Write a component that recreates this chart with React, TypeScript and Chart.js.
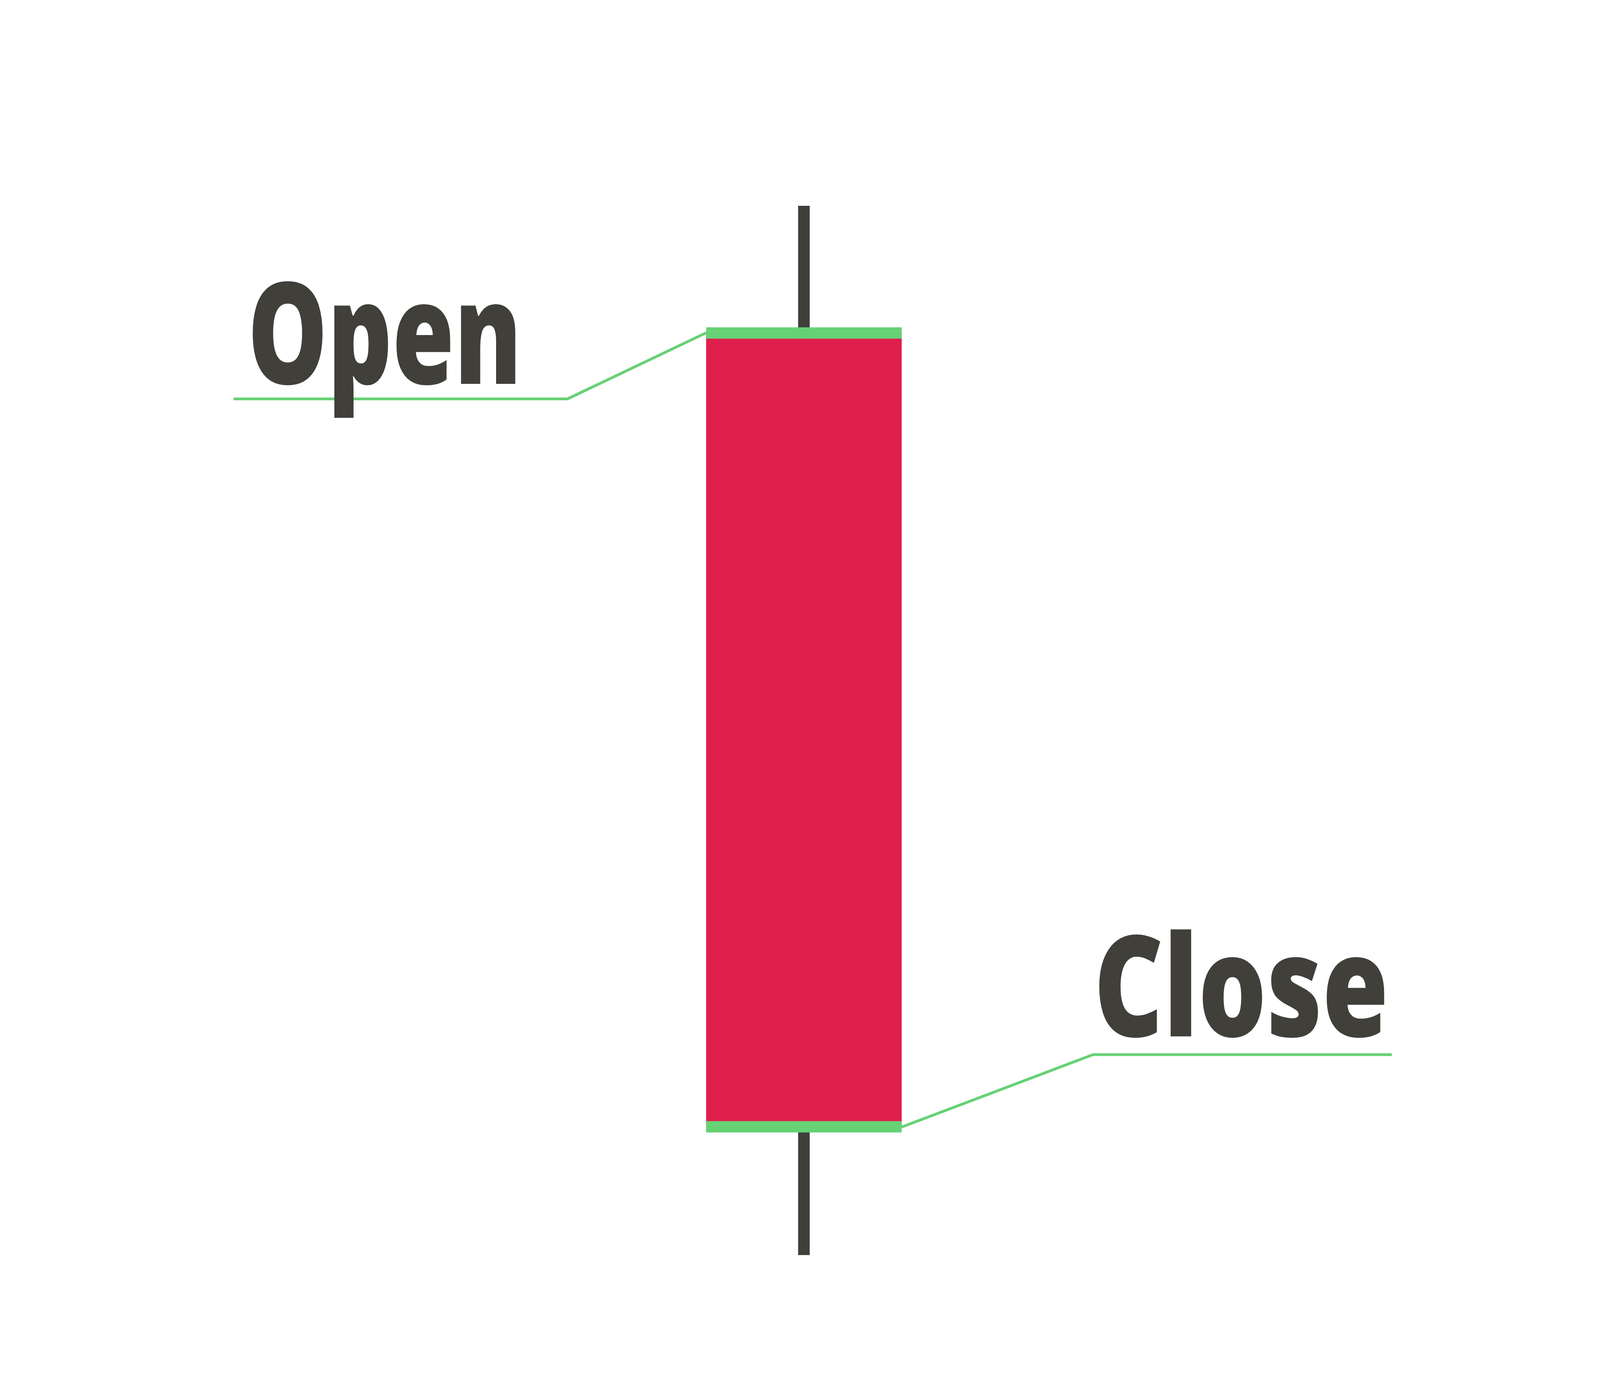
import React, { useEffect, useRef } from 'react';
import { Chart, registerables } from 'chart.js';

Chart.register(...registerables);

// one candle (price units, high = 100, low = 0)
const candleX = [0];
const highs = [100];
const lows = [0];
const opens = [87.9];
const closes = [12.2];
const openBand = [87.35, 88.4];
const closeBand = [11.7, 12.75];

// leader lines from the labels to the open / close marks
const openLeaderX = [-29.2, -12.1, -5];
const openLeaderY = [81.6, 81.6, 87.9];
const closeLeaderX = [5, 14.8, 30.1];
const closeLeaderY = [12.2, 19.1, 19.1];

// labels: text, left / right edge, cap top and baseline in data units
const labelTexts = ['Open', 'Close'];
const labelLeft = [-28.24, 15.1];
const labelRight = [-14.76, 29.72];
const labelBaseline = [83.03, 20.84];
const labelCapTop = [92.74, 30.5];

const DARK = '#403f3a';
const RED = '#df1f4c';
const GREEN = '#66d175';
const FONT_FAMILY = '"Noto Sans", "DejaVu Sans Condensed", sans-serif';

const setFont = (ctx: CanvasRenderingContext2D, size: number) => {
  ctx.font = `extra-condensed 900 ${size}px ${FONT_FAMILY}`;
  const c = ctx as any;
  if ('fontStretch' in c) c.fontStretch = 'extra-condensed';
};

const labelPlugin = {
  id: 'candleLabels',
  afterDatasetsDraw(chart: any) {
    const { ctx, scales } = chart;
    const xs = scales.x;
    const ys = scales.y;
    ctx.save();
    ctx.fillStyle = DARK;
    ctx.textBaseline = 'alphabetic';
    ctx.textAlign = 'left';
    // size the font from the cap height of "O"
    setFont(ctx, 100);
    const capRef = ctx.measureText('O').actualBoundingBoxAscent;
    labelTexts.forEach((text, i) => {
      const base = ys.getPixelForValue(labelBaseline[i]);
      const top = ys.getPixelForValue(labelCapTop[i]);
      const size = (100 * (base - top)) / capRef;
      setFont(ctx, size);
      const m = ctx.measureText(text);
      const ink = m.actualBoundingBoxLeft + m.actualBoundingBoxRight;
      const left = xs.getPixelForValue(labelLeft[i]);
      const right = xs.getPixelForValue(labelRight[i]);
      const sx = (right - left) / ink;
      ctx.save();
      ctx.translate(left, base);
      ctx.scale(sx, 1);
      ctx.fillText(text, m.actualBoundingBoxLeft, 0);
      ctx.restore();
    });
    ctx.restore();
  },
};

const CandleChart: React.FC = () => {
  const canvasRef = useRef<HTMLCanvasElement | null>(null);

  useEffect(() => {
    if (!canvasRef.current) return;
    const ctx = canvasRef.current.getContext('2d');
    if (!ctx) return;

    const leader = (xsArr: number[], ysArr: number[]) => ({
      type: 'line' as const,
      data: xsArr.map((x, i) => ({ x, y: ysArr[i] })),
      borderColor: GREEN,
      borderWidth: 7,
      pointRadius: 0,
      tension: 0,
      fill: false,
      borderCapStyle: 'butt' as const,
      borderJoinStyle: 'miter' as const,
    });

    const chart = new Chart(ctx, {
      type: 'bar',
      data: {
        datasets: [
          leader(openLeaderX, openLeaderY) as any,
          leader(closeLeaderX, closeLeaderY) as any,
          {
            label: 'open mark',
            data: candleX.map(x => ({ x, y: openBand })),
            backgroundColor: GREEN,
            barThickness: 500,
            grouped: false,
          },
          {
            label: 'close mark',
            data: candleX.map(x => ({ x, y: closeBand })),
            backgroundColor: GREEN,
            barThickness: 500,
            grouped: false,
          },
          {
            label: 'body',
            data: candleX.map((x, i) => ({ x, y: [closes[i], opens[i]] })),
            backgroundColor: RED,
            barThickness: 500,
            grouped: false,
          },
          {
            label: 'wick',
            data: candleX.map((x, i) => ({ x, y: [lows[i], highs[i]] })),
            backgroundColor: DARK,
            barThickness: 29,
            grouped: false,
          },
        ],
      },
      options: {
        animation: false,
        responsive: true,
        maintainAspectRatio: false,
        layout: { padding: { top: 527, bottom: 366, left: 58, right: 113 } },
        plugins: { legend: { display: false }, tooltip: { enabled: false } },
        events: [],
        scales: {
          x: { type: 'linear', min: -40, max: 40, offset: false, display: false },
          y: { type: 'linear', min: 0, max: 100, display: false },
        },
      },
      plugins: [labelPlugin],
    });

    return () => {
      chart.destroy();
    };
  }, []);

  return <canvas ref={canvasRef} />;
};

export default function App() {
  return (
    <div style={{ position: 'absolute', left: 0, top: 0, width: 4171, height: 3580, background: '#ffffff' }}>
      <CandleChart />
    </div>
  );
}
